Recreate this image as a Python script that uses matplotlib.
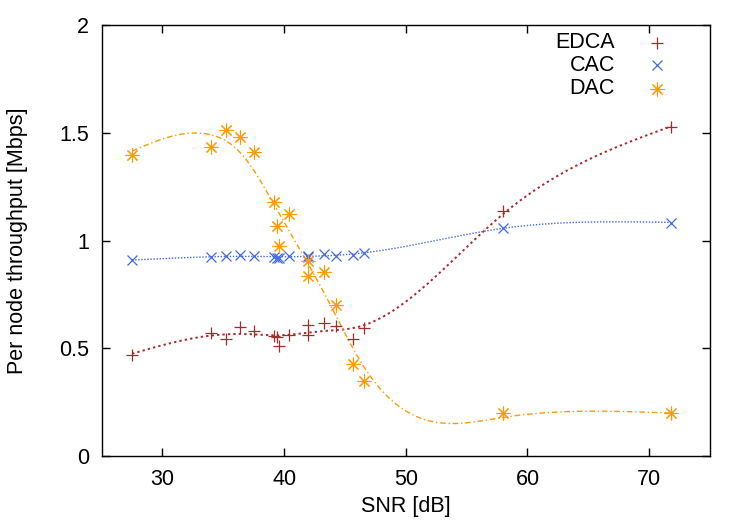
import matplotlib.pyplot as plt
import numpy as np

plt.rcParams['font.family'] = ['Liberation Sans', 'DejaVu Sans']

snr = [27.5, 34.0, 35.2, 36.4, 37.5, 39.2, 39.4, 39.6, 40.4, 42.0, 42.0,
       43.3, 44.3, 45.7, 46.6, 58.0, 71.8]
edca = [0.470, 0.573, 0.541, 0.600, 0.581, 0.557, 0.550, 0.510, 0.561, 0.608,
        0.561, 0.619, 0.604, 0.543, 0.595, 1.137, 1.527]
cac = [0.909, 0.922, 0.928, 0.933, 0.928, 0.925, 0.921, 0.917, 0.928, 0.929,
       0.925, 0.936, 0.928, 0.931, 0.944, 1.060, 1.083]
dac = [1.397, 1.432, 1.511, 1.479, 1.409, 1.177, 1.069, 0.974, 1.124, 0.906,
       0.837, 0.854, 0.701, 0.428, 0.347, 0.198, 0.198]


# smoothing spline approximation (like gnuplot acsplines) on a fine grid
def smooth(x, y, lam, n=600):
    x = np.asarray(x)
    y = np.asarray(y)
    g = np.linspace(x.min(), x.max(), n)
    h = g[1] - g[0]
    B = np.zeros((len(x), n))
    for i, xi in enumerate(x):
        k = min(int((xi - g[0]) / h), n - 2)
        t = (xi - g[k]) / h
        B[i, k] = 1 - t
        B[i, k + 1] = t
    D = np.diff(np.eye(n), 2, axis=0)
    A = B.T @ B + lam / h**3 * D.T @ D
    f = np.linalg.solve(A, B.T @ y)
    return g, f


fig = plt.figure(figsize=(7.47, 5.23), dpi=100)
ax = fig.add_axes([0.1361, 0.1281, 0.8143, 0.824])

c_edca = '#a52a2a'
c_cac = '#4169e1'
c_dac = '#ff9a00'
fs = 15.5

gx, gy = smooth(snr, edca, 10)
ax.plot(gx, gy, color=c_edca, lw=1.4, ls=(0, (1.2, 1.6)))
gx, gy = smooth(snr, cac, 10)
ax.plot(gx, gy, color=c_cac, lw=1.0, ls=(0, (1, 1.2)))
gx, gy = smooth(snr, dac, 10)
ax.plot(gx, gy, color=c_dac, lw=1.0, ls=(0, (4, 2, 1, 2)))

ax.plot(snr, edca, ls='none', marker='+', ms=9, mew=0.9, color=c_edca)
ax.plot(snr, cac, ls='none', marker='x', ms=7, mew=0.9, color=c_cac)
ax.plot(snr, dac, ls='none', marker=(8, 2, 0), ms=10, mew=0.8, color=c_dac)

# legend drawn gnuplot style: right-aligned text, marker on the right
labels = ['EDCA', 'CAC', 'DAC']
marks = [('+', 9, 0.9, c_edca), ('x', 7, 0.9, c_cac), ((8, 2, 0), 10, 0.8, c_dac)]
rows = [0.959, 0.907, 0.852]
for lab, (m, ms, mw, c), yy in zip(labels, marks, rows):
    ax.text(0.8438, yy, lab, transform=ax.transAxes, ha='right', va='center',
            fontsize=fs)
    ax.plot([0.9128], [yy], transform=ax.transAxes, marker=m, ms=ms, mew=mw,
            color=c, ls='none', clip_on=False)

ax.set_xlim(25, 75)
ax.set_ylim(0, 2)
ax.set_xticks([30, 40, 50, 60, 70])
ax.set_yticks([0, 0.5, 1, 1.5, 2])
ax.set_yticklabels(['0', '0.5', '1', '1.5', '2'])
ax.tick_params(direction='in', top=True, right=True, length=6, width=1,
               labelsize=fs, pad=9)
for s in ax.spines.values():
    s.set_linewidth(1.0)

ax.set_xlabel('SNR [dB]', fontsize=fs, va='center')
ax.set_ylabel('Per node throughput [Mbps]', fontsize=fs, va='center')
ax.xaxis.set_label_coords(0.5, -0.118)
ax.yaxis.set_label_coords(-0.1376, 0.5)

fig.savefig('out.png', dpi=100)
